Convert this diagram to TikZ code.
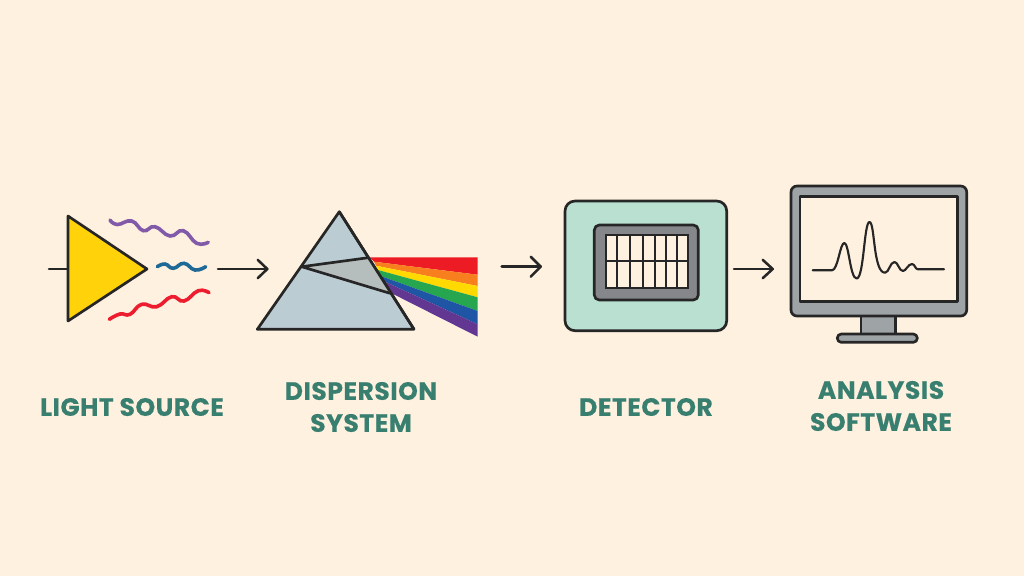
\documentclass[tikz,border=0pt]{standalone}
\usepackage{fontspec}
\setmainfont{Poppins}[LetterSpace=2.0,BoldFeatures={FakeBold=0.35}]
\usetikzlibrary{calc}
\definecolor{bgc}{HTML}{FFF1DF}
\definecolor{ink}{HTML}{262626}
\definecolor{labelc}{HTML}{387F70}
\definecolor{srcy}{HTML}{FFD20A}
\definecolor{mong}{HTML}{9EA3A6}
\tikzset{
  px/.style={x=0.75pt,y=-0.75pt},
  outline/.style={draw=ink,line width=2pt,line join=round},
  wave/.style={line width=2.7pt,line cap=round},
  conn/.style={draw=ink,line width=1.9pt,line cap=round,line join=round},
  gridl/.style={draw=ink,line width=1.6pt},
  label/.style={text=labelc,font=\fontsize{18.8}{20}\selectfont\bfseries,inner sep=0pt,anchor=center},
}
\begin{document}
\begin{tikzpicture}[px]
\path[use as bounding box,fill=bgc] (0,0) rectangle (1024,576);
% light source
\coordinate (srcin) at (49,269);
\coordinate (srctop) at (68,216);
\coordinate (srcbot) at (68,321);
\coordinate (srcapex) at (147,269);
\coordinate (srcback) at (68,269);
\draw[conn] (srcin) -- (srcback);
\draw[outline,fill=srcy] (srctop) -- (srcapex) -- (srcbot) -- cycle;
\draw[wave,color={rgb,255:red,130;green,90;blue,170}] plot[smooth,tension=0.8] coordinates {(110,220)(117.3,224.5)(131.7,221)(143.3,230.7)(155,226.7)(170,236)(183.3,230.7)(196.7,243.3)(208.3,242.3)};
\draw[wave,color={rgb,255:red,30;green,105;blue,150}] plot[smooth,tension=0.8] coordinates {(157.3,266.7)(165,264)(173.3,268.3)(184,263.3)(195,270)(205.7,266.7)};
\draw[wave,color={rgb,255:red,237;green,28;blue,46}] plot[smooth,tension=0.8] coordinates {(109.3,319.3)(120,314)(130,314.3)(141.7,304.3)(156.7,306.7)(171.7,296.7)(184,301)(198.3,290.7)(209,292.7)};
% prism
\coordinate (pa) at (339.3,211.7);
\coordinate (pl) at (257.3,329.3);
\coordinate (pr) at (414,329.3);
\coordinate (pi1) at (301.7,266.7);
\coordinate (pi2) at (368.3,257.7);
\coordinate (pi3) at (390,293.3);
\fill[color={rgb,255:red,237;green,28;blue,36}] (370,257.3) -- (477.7,257.3) -- (477.7,274.7) -- (374,261.7) -- cycle;
\fill[color={rgb,255:red,247;green,127;blue,30}] (374,261.7) -- (477.7,274.7) -- (477.7,286) -- (376,265.7) -- cycle;
\fill[color={rgb,255:red,255;green,217;blue,0}] (376,265.7) -- (477.7,286) -- (477.7,297.3) -- (378,270) -- cycle;
\fill[color={rgb,255:red,38;green,166;blue,78}] (378,270) -- (477.7,297.3) -- (477.7,311) -- (380.7,276) -- cycle;
\fill[color={rgb,255:red,30;green,85;blue,165}] (380.7,276) -- (477.7,311) -- (477.7,324.3) -- (385,281.7) -- cycle;
\fill[color={rgb,255:red,98;green,55;blue,145}] (385,281.7) -- (477.7,324.3) -- (477.7,336.7) -- (391.7,293.3) -- cycle;
\draw[outline,fill={rgb,255:red,188;green,204;blue,211}] (pa) -- (pr) -- (pl) -- cycle;
\fill[color={rgb,255:red,182;green,189;blue,189}] (pi1) -- (pi2) -- (pi3) -- cycle;
\draw[outline] (pi2) -- (pi1) -- (pi3);
\draw[outline] (pa) -- (pr);
% detector
\draw[outline,fill={rgb,255:red,185;green,224;blue,208},rounded corners=7.5pt] (565,201) rectangle (726.7,330.7);
\draw[outline,fill={rgb,255:red,133;green,135;blue,138},rounded corners=3.75pt] (594.3,225) rectangle (698.3,300);
\draw[gridl,fill=bgc] (605.7,235) rectangle (687.7,287.7);
\foreach \xx in {617.3,630,643.3,655,665.7,677.3}{\draw[gridl] (\xx,235) -- (\xx,287.7);}
\draw[gridl] (605.7,261) -- (687.7,261);
% monitor
\draw[outline,fill=mong] (861,316) rectangle (895.7,334);
\draw[outline,fill=mong,rounded corners=4.5pt] (791,186) rectangle (966.7,316);
\draw[outline,fill=bgc] (800,196.7) rectangle (957.3,301.7);
\draw[outline,fill=mong,rounded corners=3pt] (837.3,334) rectangle (917.3,342.3);
\draw[draw=ink,line width=1.6pt,line cap=round,line join=round] (812.7,270.3) -- (832,270.3) .. controls (838,270) and (840,243) .. (844.3,243) .. controls (849,243) and (850,278.5) .. (856.7,278.5) .. controls (864,278) and (864,222) .. (869.5,222) .. controls (875,222) and (873,272.7) .. (885,272.7) .. controls (889,272.7) and (890,262) .. (894.5,262) .. controls (898,262) and (899,271) .. (903,271) .. controls (906,271) and (908,264) .. (912,264) .. controls (915,264) and (915,269.3) .. (918,269.3) -- (944,269.3);
% arrows
\coordinate (a1s) at (218,269); \coordinate (a1e) at (267.3,269);
\coordinate (a2s) at (501.7,266.7); \coordinate (a2e) at (540.7,266.7);
\coordinate (a3s) at (734,269); \coordinate (a3e) at (772.7,269);
\draw[conn] (a1s) -- (a1e);
\draw[conn] ($(a1e)+(-9.6,-9.2)$) -- (a1e) -- ($(a1e)+(-9.6,9.2)$);
\draw[conn] (a2s) -- (a2e);
\draw[conn] ($(a2e)+(-10,-10)$) -- (a2e) -- ($(a2e)+(-10,10)$);
\draw[conn] (a3s) -- (a3e);
\draw[conn] ($(a3e)+(-10,-9.2)$) -- (a3e) -- ($(a3e)+(-10,9.2)$);
% labels
\node[label] (l1) at (132,407) {LIGHT SOURCE};
\node[label] (l2a) at (361,391) {DISPERSION};
\node[label] (l2b) at (361,423) {SYSTEM};
\node[label] (l3) at (646,407) {DETECTOR};
\node[label] (l4a) at (881,390) {ANALYSIS};
\node[label] (l4b) at (881,422) {SOFTWARE};
\end{tikzpicture}
\end{document}
